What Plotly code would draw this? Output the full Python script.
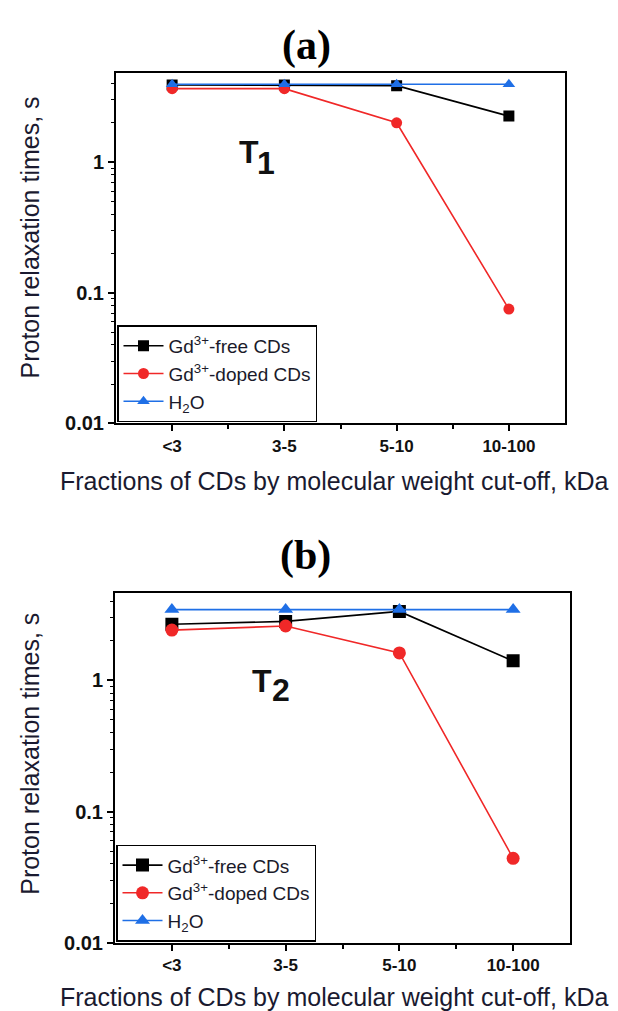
import plotly.graph_objects as go

W, H = 618, 1011

categories = ["<3", "3-5", "5-10", "10-100"]

# Panel (a) T1
free_T1 = [3.9, 3.9, 3.85, 2.25]
doped_T1 = [3.65, 3.65, 2.0, 0.075]
water_T1 = [3.95, 3.95, 3.95, 3.95]

# Panel (b) T2
free_T2 = [2.68, 2.82, 3.36, 1.41]
doped_T2 = [2.42, 2.6, 1.62, 0.044]
water_T2 = [3.47, 3.47, 3.47, 3.47]

names = ["Gd<sup>3+</sup>-free CDs", "Gd<sup>3+</sup>-doped CDs", "H<sub>2</sub>O"]
colors = ["#000000", "#f02828", "#1f6fe6"]
symbols = ["square", "circle", "triangle-up"]

def px(x):
    return x / W

def py(y):
    return 1 - y / H

xi = list(range(len(categories)))

fig = go.Figure()

panels = [
    ("x", "y", "legend", [free_T1, doped_T1, water_T1], 11),
    ("x2", "y2", "legend2", [free_T2, doped_T2, water_T2], 13),
]
for xa, ya, lg, series, ms in panels:
    for k, (vals, name, c, s) in enumerate(zip(series, names, colors, symbols)):
        fig.add_trace(go.Scatter(
            x=xi, y=vals, name=name, mode="lines+markers",
            line=dict(color=c, width=1.6),
            marker=dict(symbol=s, size=ms, color=c),
            xaxis=xa, yaxis=ya, legend=lg, legendgroup=f"{lg}{k}",
        ))

xtickfont = dict(family="Liberation Sans, Arial", size=17, color="#111", weight="bold")
ytickfont = dict(family="Liberation Sans, Arial", size=20, color="#111", weight="bold")
minor_y = [m * 10.0 ** e for e in (-2, -1, 0) for m in range(2, 10) if m * 10.0 ** e < 5]

def xaxis(domain, anchor):
    return dict(
        domain=domain, anchor=anchor, range=[-0.5, 3.5],
        tickmode="array", tickvals=xi, ticktext=categories,
        ticks="outside", ticklen=6, tickwidth=1.5, tickcolor="black",
        minor=dict(tickmode="array", tickvals=[0.5, 1.5, 2.5], ticks="outside",
                   ticklen=4, tickwidth=1.5, tickcolor="black"),
        showline=True, linewidth=2, linecolor="black", mirror=True,
        showgrid=False, zeroline=False, tickfont=xtickfont,
    )

def yaxis(domain, anchor, top):
    return dict(
        domain=domain, anchor=anchor, type="log", range=[-2, top],
        tickmode="array", tickvals=[0.01, 0.1, 1], ticktext=["0.01", "0.1", "1"],
        ticks="outside", ticklen=6, tickwidth=1.5, tickcolor="black",
        minor=dict(tickmode="array", tickvals=minor_y, ticks="outside",
                   ticklen=3, tickwidth=1, tickcolor="black"),
        showline=True, linewidth=2, linecolor="black", mirror=True,
        showgrid=False, zeroline=False, tickfont=ytickfont,
    )

legend_common = dict(
    bgcolor="white", bordercolor="black", borderwidth=1.5,
    font=dict(family="Liberation Sans, Arial", size=19, color="#1a1a2a"),
    xanchor="left", yanchor="bottom", itemwidth=40, tracegroupgap=0,
    traceorder="grouped",
)

fig.update_layout(
    width=W, height=H,
    margin=dict(l=0, r=0, t=0, b=0),
    paper_bgcolor="white", plot_bgcolor="white",
    showlegend=True,
    xaxis=xaxis([px(108), px(557)], "y"),
    yaxis=yaxis([py(420), py(66)], "x", 0.68),
    xaxis2=xaxis([px(107), px(562)], "y2"),
    yaxis2=yaxis([py(945), py(591)], "x2", 0.67),
    legend=dict(x=px(109), y=py(419), **legend_common),
    legend2=dict(x=px(108), y=py(944), **legend_common),
)

ann = []
title_font = dict(family="Liberation Serif, Times New Roman", size=42, color="black", weight="bold")
ann.append(dict(text="(a)", x=px(298), y=py(38), font=title_font))
ann.append(dict(text="(b)", x=px(297), y=py(554), font=title_font))

big = dict(family="Liberation Sans, Arial", size=32, color="#111", weight="bold")
ann.append(dict(text="T", x=px(241), y=py(146), font=big))
ann.append(dict(text="1", x=px(258), y=py(157), font=big))
ann.append(dict(text="T", x=px(254), y=py(680), font=big))
ann.append(dict(text="2", x=px(273), y=py(690), font=big))

lab = dict(family="Liberation Sans, Arial", size=25, color="#1a1a30")
xt = "Fractions of CDs by molecular weight cut-off, kDa"
ann.append(dict(text=xt, x=px(326), y=py(478), font=lab))
ann.append(dict(text=xt, x=px(326), y=py(1000), font=lab))
ylab = dict(family="Liberation Sans, Arial", size=25, color="#1a1a30")
yt = "Proton relaxation times, s"
ann.append(dict(text=yt, x=px(22), y=py(232), font=ylab, textangle=-90))
ann.append(dict(text=yt, x=px(22), y=py(754), font=ylab, textangle=-90))

for a in ann:
    a.update(xref="paper", yref="paper", showarrow=False, xanchor="center", yanchor="middle")
fig.update_layout(annotations=ann)

fig.write_html("out.html")
